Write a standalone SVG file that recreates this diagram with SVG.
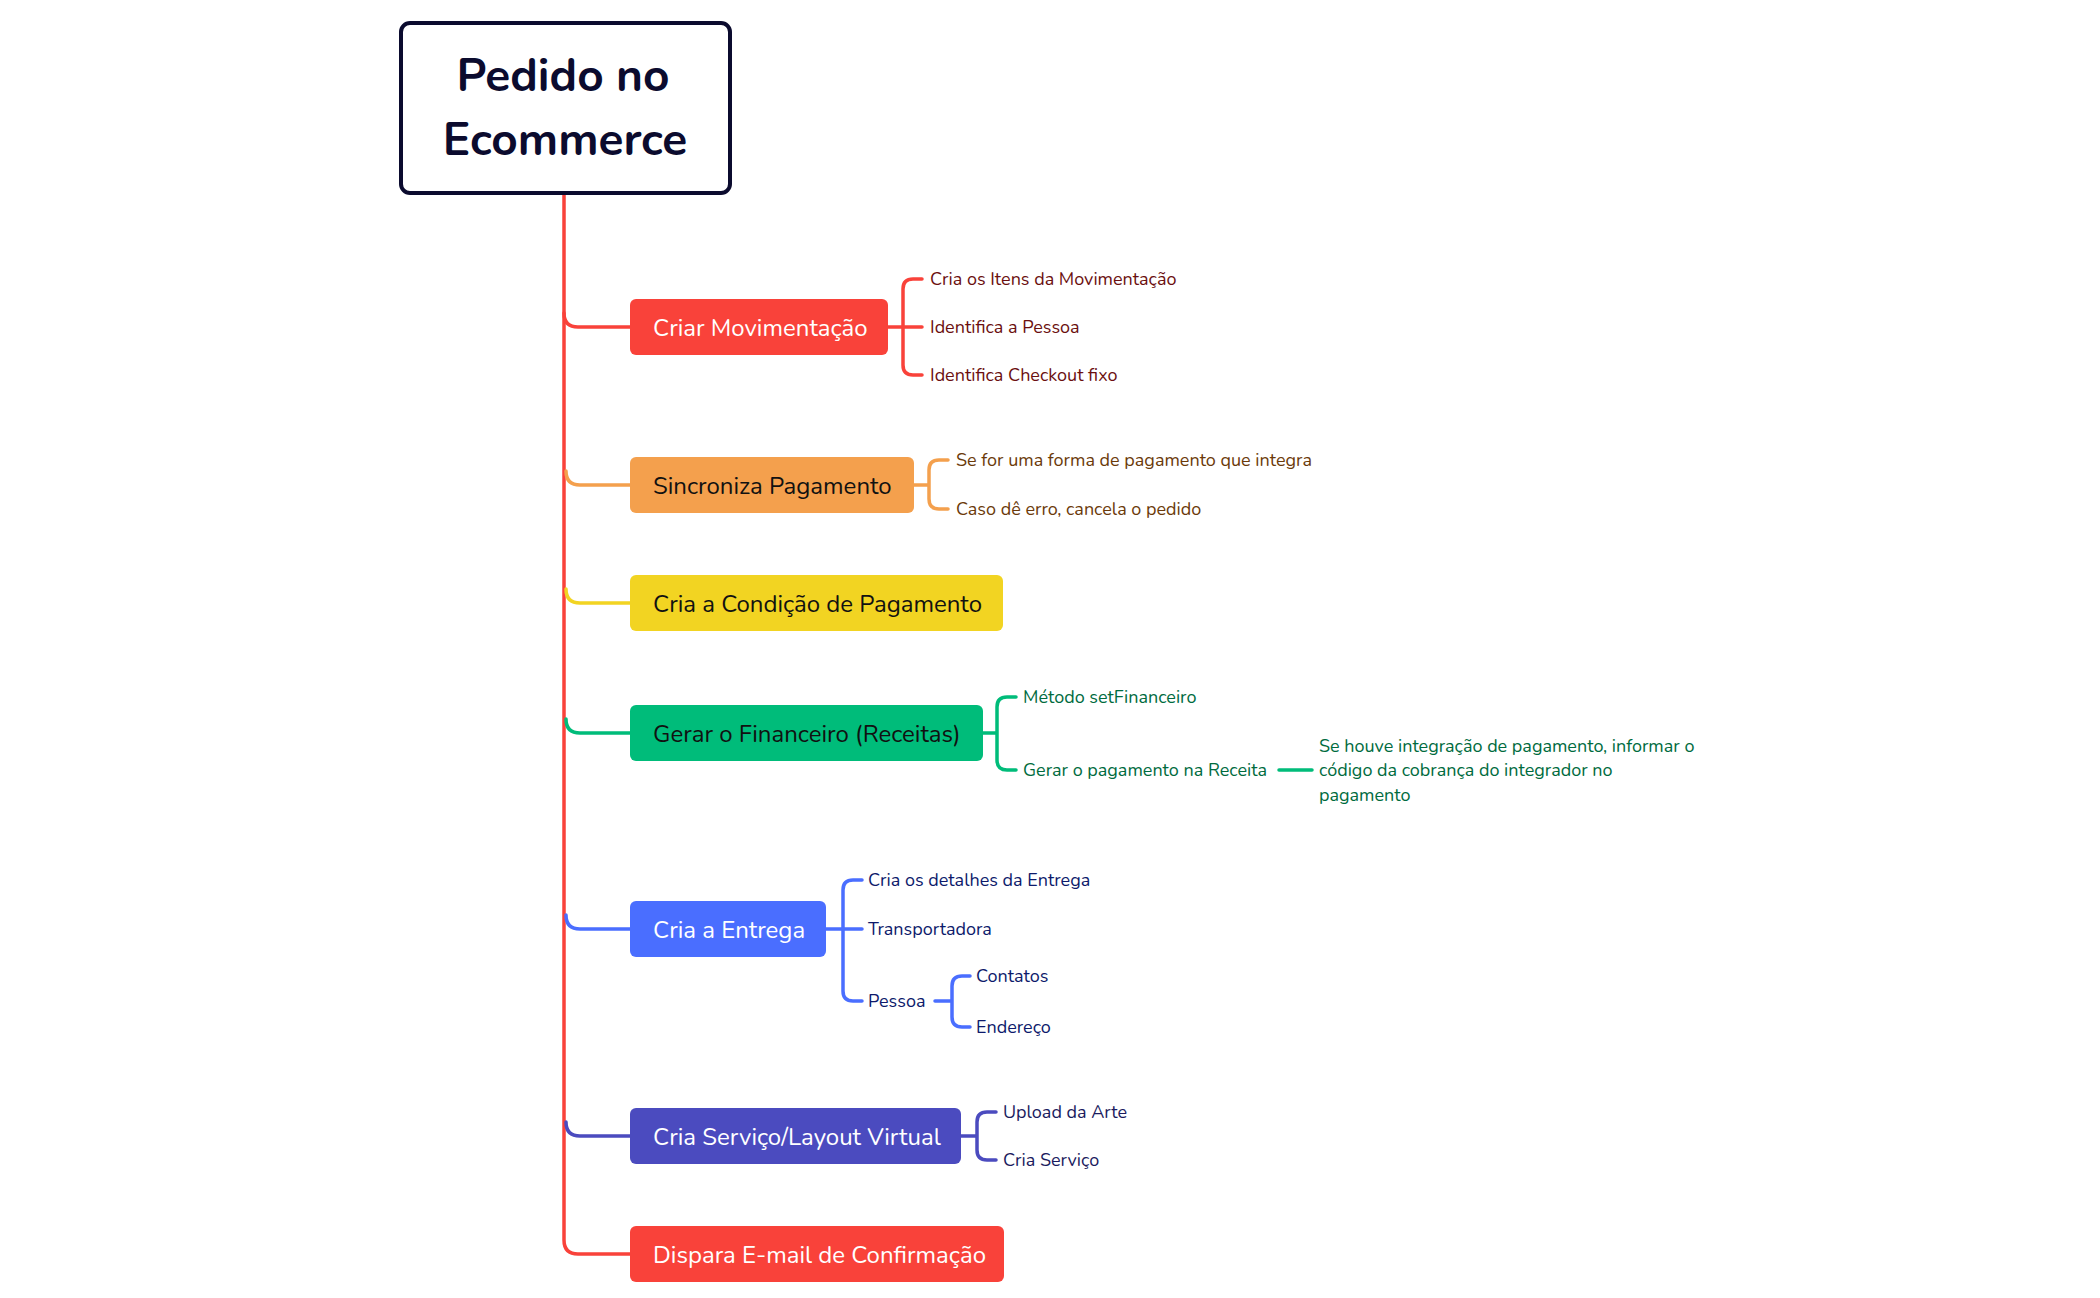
<svg xmlns="http://www.w3.org/2000/svg" width="2100" height="1298" viewBox="0 0 2100 1298">
<style>
.n{font-family:"Nunito","Lato","Noto Sans",sans-serif;font-size:24px}
.s{font-family:"Nunito","Lato","Noto Sans",sans-serif;font-size:18px}
.c{fill:none;stroke-width:3.5;stroke-linecap:round}
</style>
<rect width="2100" height="1298" fill="#fff"/>
<g id="connectors">
<path class="c" stroke="#F9423A" d="M564,193 V1240 Q564,1254 578,1254 H630"/>
<path class="c" stroke="#F9423A" d="M564,313 Q564,327 578,327 H630"/>
<path class="c" stroke="#F4A04D" d="M566,471 Q566,485 580,485 H630"/>
<path class="c" stroke="#F2D422" d="M566,589 Q566,603 580,603 H630"/>
<path class="c" stroke="#00BC7A" d="M566,719 Q566,733 580,733 H630"/>
<path class="c" stroke="#4A6EFF" d="M566,915 Q566,929 580,929 H630"/>
<path class="c" stroke="#4B4BBF" d="M566,1122 Q566,1136 580,1136 H630"/>
<!-- node1 -->
<path class="c" stroke="#F9423A" d="M888,327 H903 M903,327 V289 Q903,279 913,279 H922 M903,327 H922 M903,327 V365 Q903,375 913,375 H922"/>
<!-- node2 -->
<path class="c" stroke="#F4A04D" d="M914,485 H929 M929,485 V470 Q929,460 939,460 H948 M929,485 V499 Q929,509 939,509 H948"/>
<!-- node4 -->
<path class="c" stroke="#00BC7A" d="M983,733 H997 M997,733 V707 Q997,697 1007,697 H1016 M997,733 V760 Q997,770 1007,770 H1016 M1279,770 H1312"/>
<!-- node5 -->
<path class="c" stroke="#4A6EFF" d="M826,929 H843 M843,929 V890 Q843,880 853,880 H862 M843,929 H862 M843,929 V991 Q843,1001 853,1001 H862 M935,1001 H952 M952,1001 V986 Q952,976 962,976 H970 M952,1001 V1017 Q952,1027 962,1027 H970"/>
<!-- node6 -->
<path class="c" stroke="#4B4BBF" d="M961,1136 H977 M977,1136 V1122 Q977,1112 987,1112 H996 M977,1136 V1150 Q977,1160 987,1160 H996"/>
</g>
<g id="root">
<rect x="401" y="23" width="329" height="170" rx="9" fill="#fff" stroke="#0B0B2E" stroke-width="4"/>
<text x="563" y="91" text-anchor="middle" font-family="Nunito,Lato,'Noto Sans',sans-serif" font-size="46" font-weight="bold" fill="#0B0B2E">Pedido no</text>
<text x="565" y="155" text-anchor="middle" font-family="Nunito,Lato,'Noto Sans',sans-serif" font-size="46" font-weight="bold" fill="#0B0B2E">Ecommerce</text>
</g>
<g id="n1"><rect x="630" y="299" width="258" height="56" rx="6" fill="#F9423A"/><text class="n" x="653" y="336" fill="#fff">Criar Movimentação</text>
<text class="s" fill="#6B0F0F" x="930" y="285">Cria os Itens da Movimentação</text><text class="s" fill="#6B0F0F" x="930" y="333">Identifica a Pessoa</text><text class="s" fill="#6B0F0F" x="930" y="381">Identifica Checkout fixo</text></g>
<g id="n2"><rect x="630" y="457" width="284" height="56" rx="6" fill="#F4A04D"/><text class="n" x="653" y="494" fill="#111">Sincroniza Pagamento</text>
<text class="s" fill="#6B3A0A" x="956" y="466">Se for uma forma de pagamento que integra</text><text class="s" fill="#6B3A0A" x="956" y="515">Caso dê erro, cancela o pedido</text></g>
<g id="n3"><rect x="630" y="575" width="373" height="56" rx="6" fill="#F2D422"/><text class="n" x="653" y="612" fill="#111">Cria a Condição de Pagamento</text></g>
<g id="n4"><rect x="630" y="705" width="353" height="56" rx="6" fill="#00BC7A"/><text class="n" x="653" y="742" fill="#111">Gerar o Financeiro (Receitas)</text>
<text class="s" fill="#006B3E" x="1023" y="703">Método setFinanceiro</text><text class="s" fill="#006B3E" x="1023" y="776">Gerar o pagamento na Receita</text>
<text class="s" fill="#006B3E" x="1319" y="752">Se houve integração de pagamento, informar o</text><text class="s" fill="#006B3E" x="1319" y="776">código da cobrança do integrador no</text><text class="s" fill="#006B3E" x="1319" y="801">pagamento</text></g>
<g id="n5"><rect x="630" y="901" width="196" height="56" rx="6" fill="#4A6EFF"/><text class="n" x="653" y="938" fill="#fff">Cria a Entrega</text>
<text class="s" fill="#0D1A6B" x="868" y="886">Cria os detalhes da Entrega</text><text class="s" fill="#0D1A6B" x="868" y="935">Transportadora</text><text class="s" fill="#0D1A6B" x="868" y="1007">Pessoa</text>
<text class="s" fill="#0D1A6B" x="976" y="982">Contatos</text><text class="s" fill="#0D1A6B" x="976" y="1033">Endereço</text></g>
<g id="n6"><rect x="630" y="1108" width="331" height="56" rx="6" fill="#4B4BBF"/><text class="n" x="653" y="1145" fill="#fff">Cria Serviço/Layout Virtual</text>
<text class="s" fill="#1B1B5E" x="1003" y="1118">Upload da Arte</text><text class="s" fill="#1B1B5E" x="1003" y="1166">Cria Serviço</text></g>
<g id="n7"><rect x="630" y="1226" width="374" height="56" rx="6" fill="#F9423A"/><text class="n" x="653" y="1263" fill="#fff">Dispara E-mail de Confirmação</text></g>
</svg>
